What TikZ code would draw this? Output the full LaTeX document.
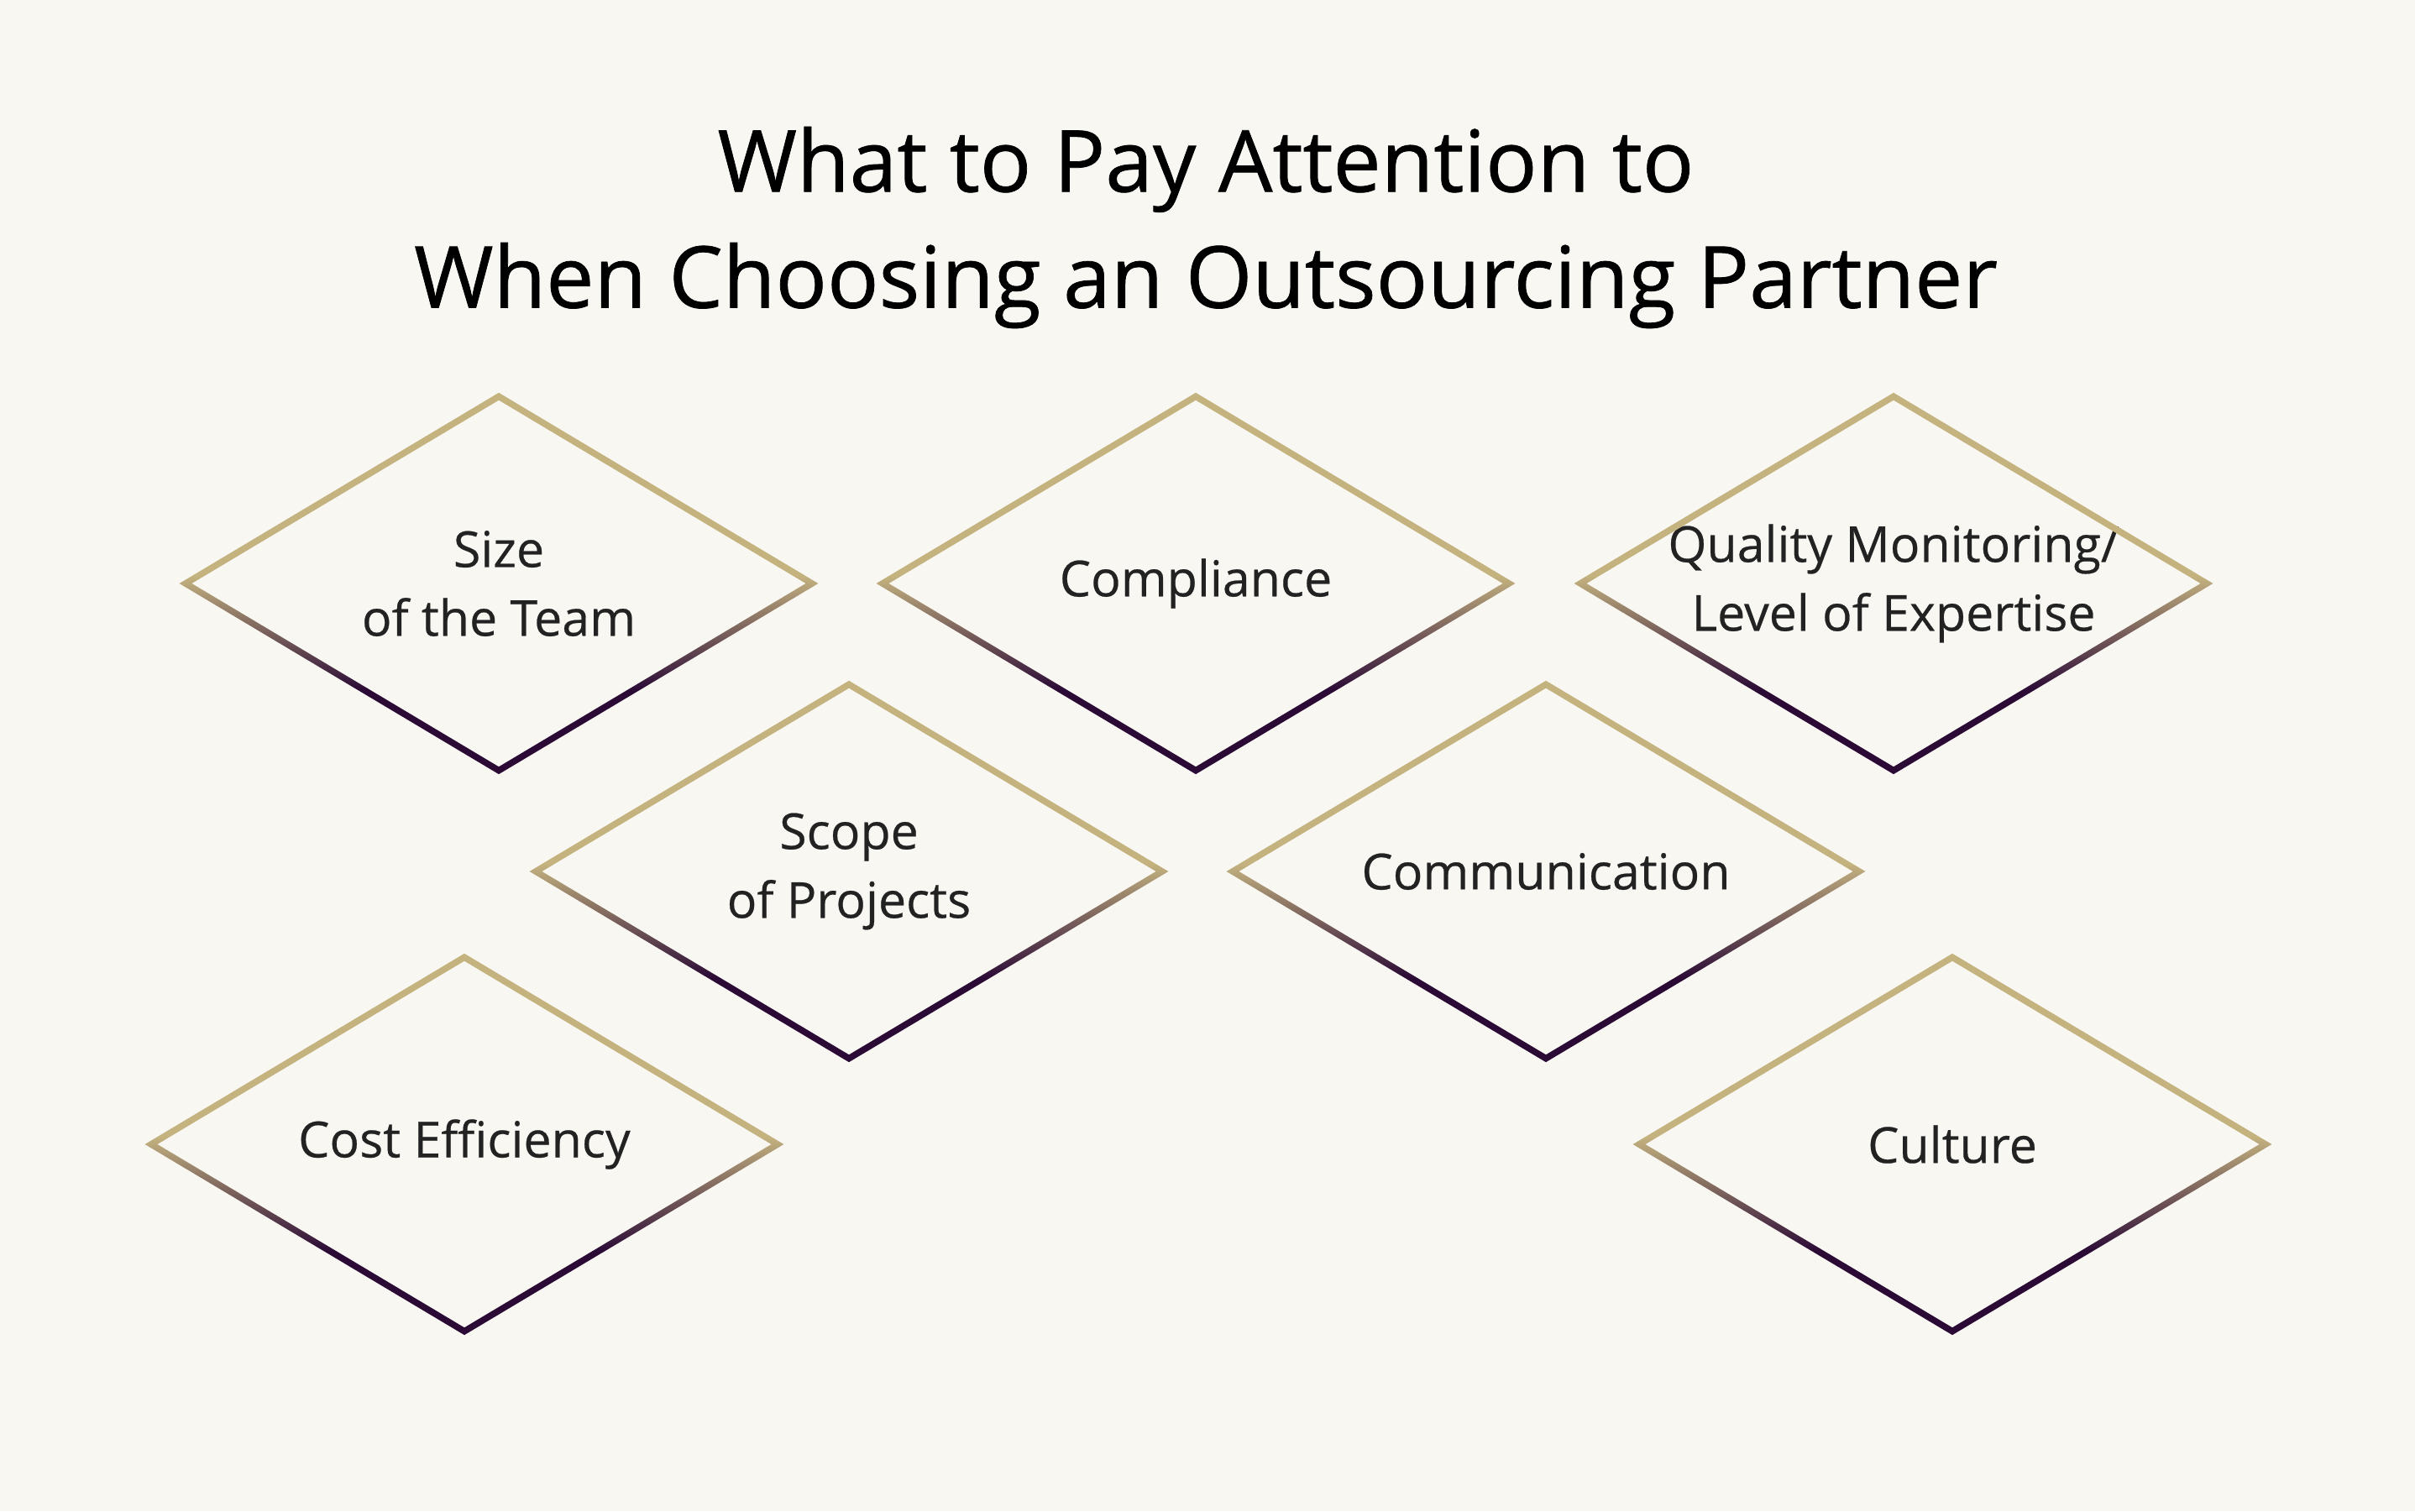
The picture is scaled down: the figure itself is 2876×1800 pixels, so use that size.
\documentclass[tikz,border=0pt]{standalone}
\usepackage{fontspec}
\setmainfont{Open Sans}
\usetikzlibrary{calc}

\definecolor{paper}{HTML}{F8F7F2}
\definecolor{rimtan}{HTML}{C4B27F}
\definecolor{rimdark}{HTML}{2B0B36}
\definecolor{ink}{HTML}{222222}
\pgfdeclareverticalshading{rim}{100bp}{color(0bp)=(rimdark); color(36bp)=(rimdark); color(51bp)=(rimtan); color(100bp)=(rimtan)}

\begin{document}
\begin{tikzpicture}[x=0.01cm, y=0.01cm,
    topic/.style={text=ink, align=center, font=\fontsize{16.8}{23.3}\selectfont\addfontfeatures{FakeBold=0.4}},
    heading/.style={text=black, align=center, font=\fontsize{29}{39.3}\selectfont\addfontfeatures{FakeBold=0.7}}]
    \fill [paper] (0, 0) rectangle (2876, 1800);
    \useasboundingbox (0, 0) rectangle (2876, 1800);

    \node [heading] (head) at (1436, 1529) {What to Pay Attention to\\When Choosing an Outsourcing Partner};

    \node [topic] (size)  at (594, 1105)  {Size\\of the Team};
    \node [topic] (compl) at (1424, 1105) {Compliance};
    \node [topic] (qual)  at (2255, 1105) {Quality Monitoring/\\Level of Expertise};
    \node [topic] (scope) at (1011, 762)  {Scope\\of Projects};
    \node [topic] (comm)  at (1841, 762)  {Communication};
    \node [topic] (cost)  at (553, 437)   {Cost Efficiency};
    \node [topic] (cult)  at (2325, 437)  {Culture};

    % diamond outlines, light on top and dark at the bottom
    \foreach \n in {size, compl, qual, scope, comm, cost, cult}
    {
      \shade [shading=rim, even odd rule]
        ($(\n)+(0, 227.2)$) -- ($(\n)+(380.4, 0)$) -- ($(\n)+(0, -227.2)$) -- ($(\n)+(-380.4, 0)$) -- cycle
        ($(\n)+(0, 218.3)$) -- ($(\n)+(365.6, 0)$) -- ($(\n)+(0, -218.3)$) -- ($(\n)+(-365.6, 0)$) -- cycle;
    }

  \end{tikzpicture}
\end{document}
